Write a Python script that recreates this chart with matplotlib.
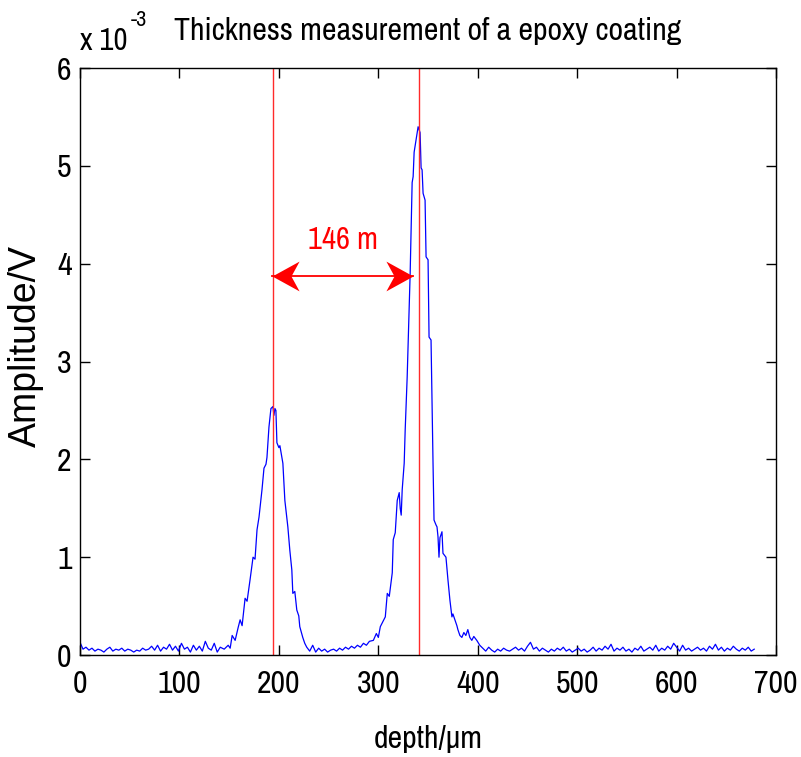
import numpy as np
import matplotlib
matplotlib.use('Agg')
import matplotlib.pyplot as plt

# depth samples (um) and amplitude (x 1e-3 V)
depth = [
    0, 3, 6, 9, 12, 15, 18, 21, 24, 27, 30, 33, 36, 39, 42, 45, 48, 51, 54, 57,
    60, 63, 66, 69, 72, 75, 78, 81, 84, 87, 90, 93, 96, 99, 102, 105, 108, 111, 114, 117,
    120, 123, 126, 129, 132, 135, 138, 141,
    145, 149, 151, 153, 156, 159, 161, 163, 166, 168, 171, 174, 176, 178, 180, 183, 185, 187,
    188, 190, 192, 194, 195, 196, 197, 198, 200, 201, 204, 206, 209, 211, 213, 214, 216, 218,
    220, 221, 224, 226, 228,
    231, 234, 237, 240, 243, 246, 249, 252, 255, 258, 261, 264, 267, 270, 273, 276, 279,
    282, 285, 288, 291, 295, 298, 300, 302, 305, 307, 309, 311, 314, 315, 317, 319, 321, 322,
    323, 324, 326, 327, 328, 329, 330, 332, 334, 335, 336, 338, 340, 342, 343, 344, 345, 347,
    348, 350, 351, 353, 354, 355, 356, 358, 359, 360, 361, 362, 364, 365, 368, 370, 372, 374,
    375, 377, 379, 380, 382, 384, 386, 388, 390, 392, 394, 396, 399, 402, 405,
    408, 411, 414, 417, 420, 423, 426, 429, 432, 435, 438, 441, 444, 447, 450, 453, 456, 459,
    462, 465, 468, 471, 474, 477, 480, 483, 486, 489, 492, 495, 498, 501, 504, 507, 510, 513,
    516, 519, 522, 525, 528, 531, 534, 537, 540, 543, 546, 549, 552, 555, 558, 561, 564, 567,
    570, 573, 576, 579, 582, 585, 588, 591, 594, 597, 600, 603, 606, 609, 612, 615, 618, 621,
    624, 627, 630, 633, 636, 639, 642, 645, 648, 651, 654, 657, 660, 663, 666, 669, 672, 675, 678,
]
amplitude = [
    .13, .06, .08, .05, .07, .04, .06, .05, .03, .06, .08, .04, .06, .05, .07, .04, .06, .05, .03, .05,
    .04, .07, .05, .06, .09, .05, .10, .04, .08, .06, .11, .05, .09, .04, .12, .06, .08, .03, .10, .05,
    .09, .04, .14, .07, .05, .12, .03, .08,
    .06, .10, .07, .20, .15, .28, .36, .30, .58, .55, .77, 1.00, .98, 1.28, 1.41, 1.69, 1.91, 1.95,
    2.02, 2.33, 2.52, 2.54, 2.45, 2.52, 2.50, 2.17, 2.12, 2.14, 1.96, 1.58, 1.31, 1.07, .87, .63, .65, .46,
    .40, .29, .18, .12, .08,
    .04, .10, .03, .07, .04, .06, .03, .05, .06, .04, .07, .05, .08, .06, .09, .07, .10,
    .08, .12, .10, .14, .15, .22, .18, .29, .35, .39, .63, .60, .84, 1.18, 1.25, 1.58, 1.66, 1.50,
    1.43, 1.69, 1.96, 2.30, 2.56, 2.84, 3.19, 3.90, 4.83, 4.89, 5.14, 5.27, 5.40, 5.34, 4.98, 4.96, 4.72, 4.65,
    4.07, 4.04, 3.25, 3.22, 2.58, 1.96, 1.38, 1.33, 1.31, 1.21, 1.00, 1.20, 1.26, 1.04, 1.00, .77, .56, .39,
    .42, .36, .30, .26, .20, .18, .23, .20, .26, .18, .15, .19, .15, .10, .07,
    .04, .08, .05, .03, .06, .04, .07, .05, .04, .06, .08, .05, .07, .04, .09, .13, .06, .08,
    .04, .07, .05, .03, .06, .04, .07, .05, .08, .04, .06, .03, .05, .07, .04, .06, .03, .05,
    .08, .04, .07, .05, .09, .06, .11, .04, .07, .05, .08, .04, .06, .03, .07, .05, .09, .04,
    .06, .08, .05, .10, .04, .07, .05, .09, .06, .12, .08, .04, .10, .05, .07, .04, .06, .08,
    .05, .07, .04, .09, .06, .11, .05, .08, .04, .07, .05, .09, .06, .04, .07, .05, .08, .04, .06,
]

# interface positions (um) and the marked thickness
interfaces = [194, 341]
arrow_ends = [193, 335]
arrow_level = 3.875
thickness_label = '146 m'
label_pos = (264, 4.24)

xticks = [0, 100, 200, 300, 400, 500, 600, 700]
yticks = [0, 1, 2, 3, 4, 5, 6]

fam = ['Archivo Narrow', 'Liberation Sans', 'DejaVu Sans']
plt.rcParams['font.family'] = fam
fs = 23

fig = plt.figure(figsize=(8.01, 7.57), dpi=100)
ax = fig.add_axes([0.0999, 0.1347, 0.8690, 0.7754])

ax.plot(depth, amplitude, color='blue', linewidth=0.9)
for xv in interfaces:
    ax.axvline(xv, color='#ff2a2a', linewidth=1.0)

# double-headed arrow with notched heads
ax.plot(arrow_ends, [arrow_level, arrow_level], color='red', linewidth=1.3)
head_r = [(0, 0), (-1, 0.55), (-0.7, 0), (-1, -0.55), (0, 0)]
head_l = [(-x, y) for x, y in head_r]
ax.plot([arrow_ends[1]], [arrow_level], marker=head_r, markersize=39,
        color='red', markeredgewidth=0, linestyle='none')
ax.plot([arrow_ends[0]], [arrow_level], marker=head_l, markersize=39,
        color='red', markeredgewidth=0, linestyle='none')
ax.text(label_pos[0], label_pos[1], thickness_label, color='red', fontsize=22,
        ha='center', va='center')

ax.set_xlim(0, 700)
ax.set_ylim(0, 6)
ax.set_xticks(xticks)
ax.set_yticks(yticks)
ax.tick_params(axis='x', direction='in', top=True, length=7, width=1,
               labelsize=fs, pad=11)
ax.tick_params(axis='y', direction='in', right=True, length=7, width=1,
               labelsize=fs, pad=6)
for s in ax.spines.values():
    s.set_linewidth(1)

ax.set_xlabel('depth/\u00b5m', fontsize=fs, labelpad=19)
# rotated label is stretched in the reference, so use the wider face here
ax.set_ylabel('Amplitude/V', fontsize=27, family=['Liberation Sans', 'DejaVu Sans'])
ax.yaxis.set_label_coords(-0.052, 0.526)
ax.set_title('Thickness measurement of a epoxy coating', fontsize=fs, pad=20)
# exponent label drawn as two texts, MATLAB style
ax.text(0, 1.031, 'x 10', transform=ax.transAxes, fontsize=22,
        ha='left', va='baseline')
ax.text(0.073, 1.072, '-3', transform=ax.transAxes, fontsize=16,
        ha='left', va='baseline')

fig.savefig('out.png', dpi=100)
